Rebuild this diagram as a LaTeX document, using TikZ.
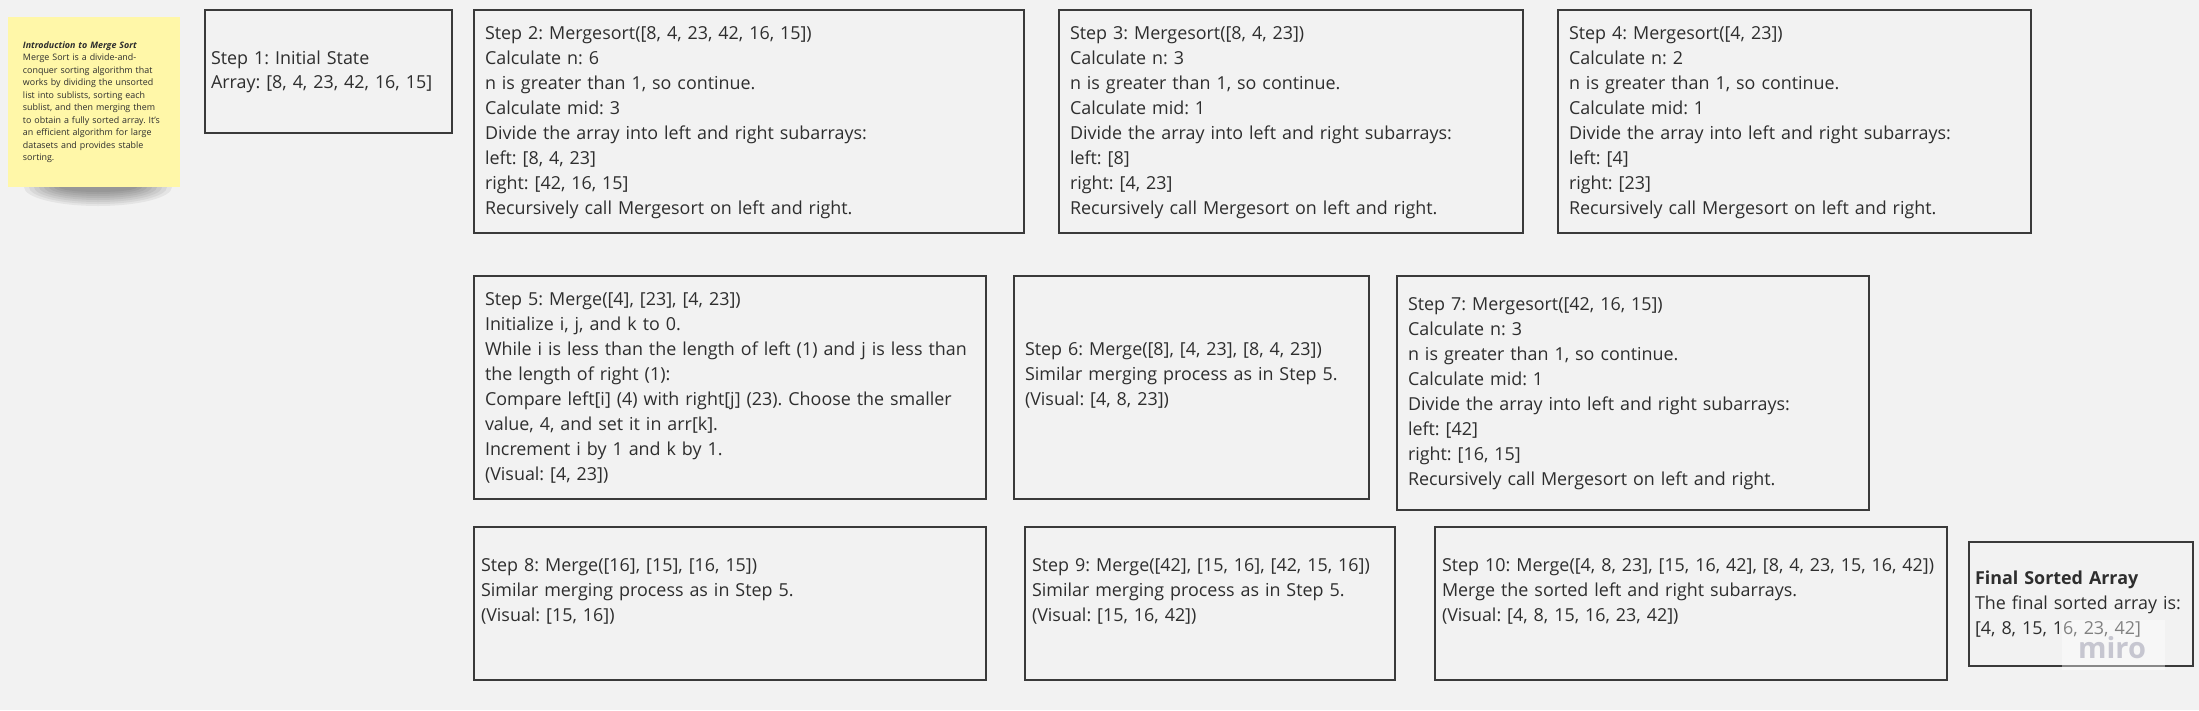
\documentclass[tikz,border=0pt]{standalone}
\usepackage{fontspec}
\setmainfont{Open Sans}
\definecolor{bg}{HTML}{F2F2F2}
\definecolor{ink}{HTML}{2E2E2E}
\definecolor{edge}{HTML}{3A3A3A}
\definecolor{notefill}{HTML}{FFF7A8}
\definecolor{wmark}{HTML}{C6C6D0}
\newcommand{\boxlines}[1]{\begin{tabular}{@{}l@{}}#1\end{tabular}}
\tikzset{
  stepbox/.style={draw=edge, line width=1.4pt, fill=bg, anchor=north west,
    align=left, text=ink, inner ysep=0pt, outer sep=0pt,
    font=\frenchspacing\fontsize{17.9pt}{25pt}\selectfont},
  stickynote/.style={fill=notefill, anchor=north west, align=left, text=ink,
    inner ysep=0pt, outer sep=0pt, font=\frenchspacing\fontsize{8.9pt}{12.5pt}\selectfont},
}
\begin{document}
\frenchspacing
\begin{tikzpicture}[x=1pt,y=-1pt]
\fill[bg] (0,0) rectangle (2199,710);
\useasboundingbox (0,0) rectangle (2199,710);

% shadow of the sticky note
\foreach \i in {0,...,7}
  \fill[black, opacity=0.055] (98,187) ellipse [x radius={74pt-\i*5pt}, y radius={19pt-\i*2pt}];

% sticky note
\node[stickynote, minimum width=172pt, minimum height=170pt, text width=142pt, inner xsep=15pt] (note) at (8,17)
{\boxlines{{\bfseries\itshape Introduction to Merge Sort}\\
Merge Sort is a divide-and-\\
conquer sorting algorithm that\\
works by dividing the unsorted\\
list into sublists, sorting each\\
sublist, and then merging them\\
to obtain a fully sorted array. It's\\
an efficient algorithm for large\\
datasets and provides stable\\
sorting.}};

% Step 1
\node[stepbox, font=\frenchspacing\fontsize{17.9pt}{24pt}\selectfont, minimum width=247pt, minimum height=123pt, text width=235pt, inner xsep=6pt] (s1) at (205,10)
{\boxlines{Step 1: Initial State\\
Array: [8, 4, 23, 42, 16, 15]}};

% Step 2
\node[stepbox, minimum width=550pt, minimum height=223pt, text width=528pt, inner xsep=11pt] (s2) at (474,10)
{\boxlines{Step 2: Mergesort([8, 4, 23, 42, 16, 15])\\
Calculate n: 6\\
n is greater than 1, so continue.\\
Calculate mid: 3\\
Divide the array into left and right subarrays:\\
left: [8, 4, 23]\\
right: [42, 16, 15]\\
Recursively call Mergesort on left and right.}};

% Step 3
\node[stepbox, minimum width=464pt, minimum height=223pt, text width=442pt, inner xsep=11pt] (s3) at (1059,10)
{\boxlines{Step 3: Mergesort([8, 4, 23])\\
Calculate n: 3\\
n is greater than 1, so continue.\\
Calculate mid: 1\\
Divide the array into left and right subarrays:\\
left: [8]\\
right: [4, 23]\\
Recursively call Mergesort on left and right.}};

% Step 4
\node[stepbox, minimum width=473pt, minimum height=223pt, text width=451pt, inner xsep=11pt] (s4) at (1558,10)
{\boxlines{Step 4: Mergesort([4, 23])\\
Calculate n: 2\\
n is greater than 1, so continue.\\
Calculate mid: 1\\
Divide the array into left and right subarrays:\\
left: [4]\\
right: [23]\\
Recursively call Mergesort on left and right.}};

% Step 5
\node[stepbox, minimum width=512pt, minimum height=223pt, text width=490pt, inner xsep=11pt] (s5) at (474,276)
{\boxlines{Step 5: Merge([4], [23], [4, 23])\\
Initialize i, j, and k to 0.\\
While i is less than the length of left (1) and j is less than\\
the length of right (1):\\
Compare left[i] (4) with right[j] (23). Choose the smaller\\
value, 4, and set it in arr[k].\\
Increment i by 1 and k by 1.\\
(Visual: [4, 23])}};

% Step 6
\node[stepbox, minimum width=355pt, minimum height=223pt, text width=333pt, inner xsep=11pt] (s6) at (1014,276)
{\boxlines{Step 6: Merge([8], [4, 23], [8, 4, 23])\\
Similar merging process as in Step 5.\\
(Visual: [4, 8, 23])\\ \mbox{}}};

% Step 7
\node[stepbox, minimum width=472pt, minimum height=234pt, text width=450pt, inner xsep=11pt] (s7) at (1397,276)
{\boxlines{Step 7: Mergesort([42, 16, 15])\\
Calculate n: 3\\
n is greater than 1, so continue.\\
Calculate mid: 1\\
Divide the array into left and right subarrays:\\
left: [42]\\
right: [16, 15]\\
Recursively call Mergesort on left and right.}};

% Step 8
\node[stepbox, minimum width=512pt, minimum height=153pt, text width=498pt, inner xsep=7pt] (s8) at (474,527)
{\boxlines{Step 8: Merge([16], [15], [16, 15])\\
Similar merging process as in Step 5.\\
(Visual: [15, 16])\\ \mbox{}}};

% Step 9
\node[stepbox, minimum width=370pt, minimum height=153pt, text width=356pt, inner xsep=7pt] (s9) at (1025,527)
{\boxlines{Step 9: Merge([42], [15, 16], [42, 15, 16])\\
Similar merging process as in Step 5.\\
(Visual: [15, 16, 42])\\ \mbox{}}};

% Step 10
\node[stepbox, minimum width=512pt, minimum height=153pt, text width=498pt, inner xsep=7pt] (s10) at (1435,527)
{\boxlines{Step 10: Merge([4, 8, 23], [15, 16, 42], [8, 4, 23, 15, 16, 42])\\
Merge the sorted left and right subarrays.\\
(Visual: [4, 8, 15, 16, 23, 42])\\ \mbox{}}};

% Final
\node[stepbox, minimum width=224pt, minimum height=124pt, text width=212pt, inner xsep=6pt] (fin) at (1969,542)
{\boxlines{\textbf{Final Sorted Array}\\
The final sorted array is:\\{}%
[4, 8, 15, 16, 23, 42]}};

% watermark
\node[fill=white, fill opacity=0.4, minimum width=103pt, minimum height=50pt, anchor=north west, inner sep=0pt] (wmbg) at (2062,620) {};
\node[text=wmark, anchor=base, inner sep=0pt, font=\bfseries\fontsize{29pt}{29pt}\selectfont] (wm) at (2112,658) {miro};
\end{tikzpicture}
\end{document}
